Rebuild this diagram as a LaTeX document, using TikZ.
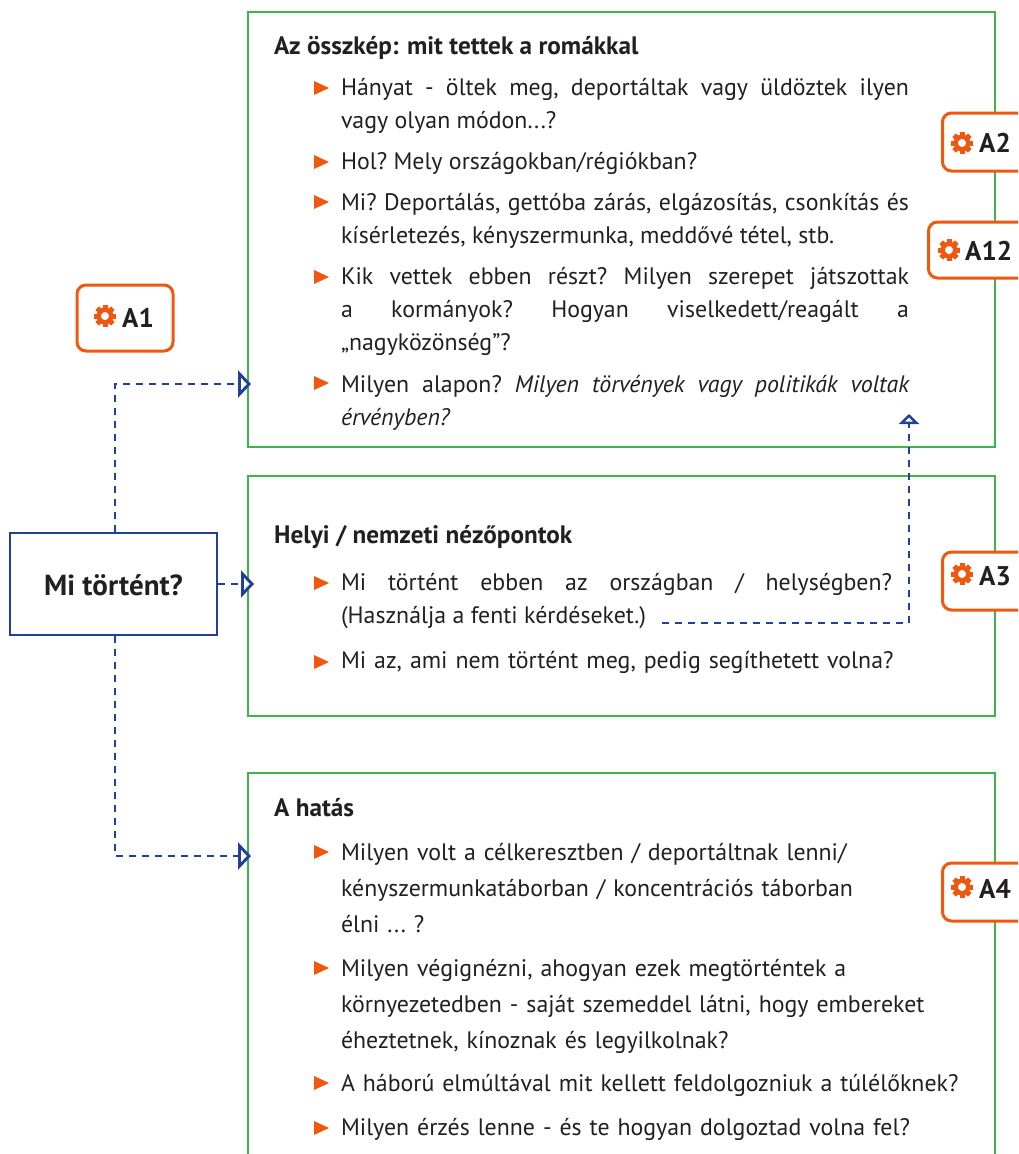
\documentclass[tikz,border=0pt]{standalone}
\usepackage{fontspec}
\setmainfont{PT Sans}
\usetikzlibrary{arrows.meta}
\definecolor{boxgreen}{HTML}{3DB54A}
\definecolor{linkblue}{HTML}{21409A}
\definecolor{markorange}{HTML}{F0580F}
\definecolor{inktext}{HTML}{231F20}
\tikzset{
  greenbox/.style={draw=boxgreen,line width=2.8pt},
  bluebox/.style={draw=linkblue,line width=2.9pt,fill=white,minimum width=207pt,minimum height=102pt,inner sep=0pt,text=inktext},
  orangebox/.style={draw=markorange,line width=3pt,fill=white,rounded corners=9pt,minimum height=58pt,inner sep=0pt},
  reflabel/.style={anchor=base west,inner sep=0pt,font=\fontsize{27}{32}\selectfont\bfseries,text=inktext},
  headline/.style={anchor=base west,inner sep=0pt,font=\fontsize{25.2}{30}\selectfont\bfseries,text=inktext},
  para/.style={anchor=base west,inner sep=0pt,outer sep=0pt,text width=568pt,align=justify,font=\fontsize{23.85}{33}\selectfont\frenchspacing,text=inktext},
  paraleft/.style={para,align=left,text width=670pt},
  paraloose/.style={paraleft,font=\fontsize{23.85}{36}\selectfont\frenchspacing},
  link/.style={draw=linkblue,line width=2.9pt,dash pattern=on 7pt off 6pt,-{Triangle[open,length=13pt,width=27pt,line width=2.9pt,fill=white]}},
  linksmall/.style={link,-{Triangle[open,length=10pt,width=20pt,line width=2.9pt,fill=white]}},
  bullet/.pic={\fill[markorange] (-7.5,-7) -- (7.5,0) -- (-7.5,7) -- cycle;},
  gear/.pic={
    \foreach \a in {0,45,...,315}{\fill[markorange,rotate=\a] (-2.5,-11) rectangle (2.5,-6);}
    \draw[markorange,line width=4.4pt] (0,0) circle (6.2pt);
  },
}
\begin{document}
\begin{tikzpicture}[x=1pt,y=-1pt]
\useasboundingbox (0,0) rectangle (1018,1154);
\clip (0,0) rectangle (1018,1154);
\fill[white] (0,0) rectangle (1018,1154);
% green frames
\draw[greenbox] (248,12) rectangle (995,447);
\draw[greenbox] (248,476) rectangle (995,716);
\draw[greenbox] (248,1160) -- (248,773) -- (995,773) -- (995,1160);
% first box
\node[headline] (t1) at (274,54) {Az összkép: mit tettek a romákkal};
\pic at (321.5,88) {bullet};
\node[para] (p1) at (341,95) {Hányat - öltek meg, deportáltak vagy üldöztek ilyen\linebreak vagy olyan módon...?};
\pic at (321.5,162) {bullet};
\node[para] (p2) at (341,169) {Hol? Mely országokban/régiókban?};
\pic at (321.5,202) {bullet};
\node[para] (p3) at (341,210) {Mi? Deportálás, gettóba zárás, elgázosítás, csonkítás és\linebreak kísérletezés, kényszermunka, meddővé tétel, stb.};
\pic at (321.5,277) {bullet};
\node[para] (p4) at (341,284) {Kik vettek ebben részt? Milyen szerepet játszottak\linebreak a kormányok? Hogyan viselkedett/reagált a\linebreak „nagyközönség”?};
\pic at (321.5,383) {bullet};
\node[para] (p5) at (341,392) {Milyen alapon? \textit{Milyen törvények vagy politikák voltak\linebreak érvényben?}};
% second box
\node[headline] (t2) at (274,543) {Helyi / nemzeti nézőpontok};
\pic at (321.5,583) {bullet};
\node[para,text width=551pt] (p6) at (341,590) {Mi történt ebben az országban / helységben?\linebreak (Használja a fenti kérdéseket.)};
\pic at (321.5,662) {bullet};
\node[paraleft] (p7) at (341,668) {Mi az, ami nem történt meg, pedig segíthetett volna?};
% third box
\node[headline] (t3) at (274,816) {A hatás};
\pic at (321.5,852) {bullet};
\node[paraloose] (p8) at (341,860) {Milyen volt a célkeresztben / deportáltnak lenni/\\kényszermunkatáborban / koncentrációs táborban\\élni ... ?};
\pic at (321.5,968) {bullet};
\node[paraloose] (p9) at (341,976) {Milyen végignézni, ahogyan ezek megtörténtek a\\környezetedben - saját szemeddel látni, hogy embereket\\éheztetnek, kínoznak és legyilkolnak?};
\pic at (321.5,1083) {bullet};
\node[paraleft] (p10) at (341,1091) {A háború elmúltával mit kellett feldolgozniuk a túlélőknek?};
\pic at (321.5,1128) {bullet};
\node[paraleft] (p11) at (341,1135) {Milyen érzés lenne - és te hogyan dolgoztad volna fel?};
% central node
\node[bluebox,font=\fontsize{29}{34}\selectfont\bfseries,text depth=0pt] (main) at (113.5,584) {};
\node[anchor=base,inner sep=0pt,font=\fontsize{29}{34}\selectfont\bfseries,text=inktext] (maint) at (113.5,595) {Mi történt?};
% connectors
\coordinate (up1) at (115,384);
\coordinate (in1) at (251,384);
\coordinate (in2) at (254,584);
\coordinate (down3) at (115,856);
\coordinate (in3) at (251,856);
\coordinate (from4) at (662,623);
\coordinate (corner4) at (909,623);
\coordinate (in4) at (909,414);
\draw[link] (up1 |- main.north) -- (up1) -- (in1);
\draw[link] (main.east) -- (in2);
\draw[link] (down3 |- main.south) -- (down3) -- (in3);
\draw[linksmall] (from4) -- (corner4) -- (in4);
% orange labels
\node[orangebox,minimum width=96pt,minimum height=66pt] (a1) at (125,318) {};
\pic at (105,316) {gear};
\node[reflabel] (a1t) at (122,327) {A1};
\node[orangebox,minimum width=90pt,anchor=west] (a2) at (941,142) {};
\pic at (962,143) {gear};
\node[reflabel] (a2t) at (979,152) {A2};
\node[orangebox,minimum width=104pt,minimum height=56pt,anchor=west] (a12) at (927,250) {};
\pic at (949,250) {gear};
\node[reflabel] (a12t) at (965,260) {A12};
\node[orangebox,minimum width=90pt,anchor=west] (a3) at (941,581) {};
\pic at (962,574) {gear};
\node[reflabel] (a3t) at (979,585) {A3};
\node[orangebox,minimum width=90pt,anchor=west] (a4) at (941,892) {};
\pic at (962,887) {gear};
\node[reflabel] (a4t) at (979,898) {A4};
\end{tikzpicture}
\end{document}
